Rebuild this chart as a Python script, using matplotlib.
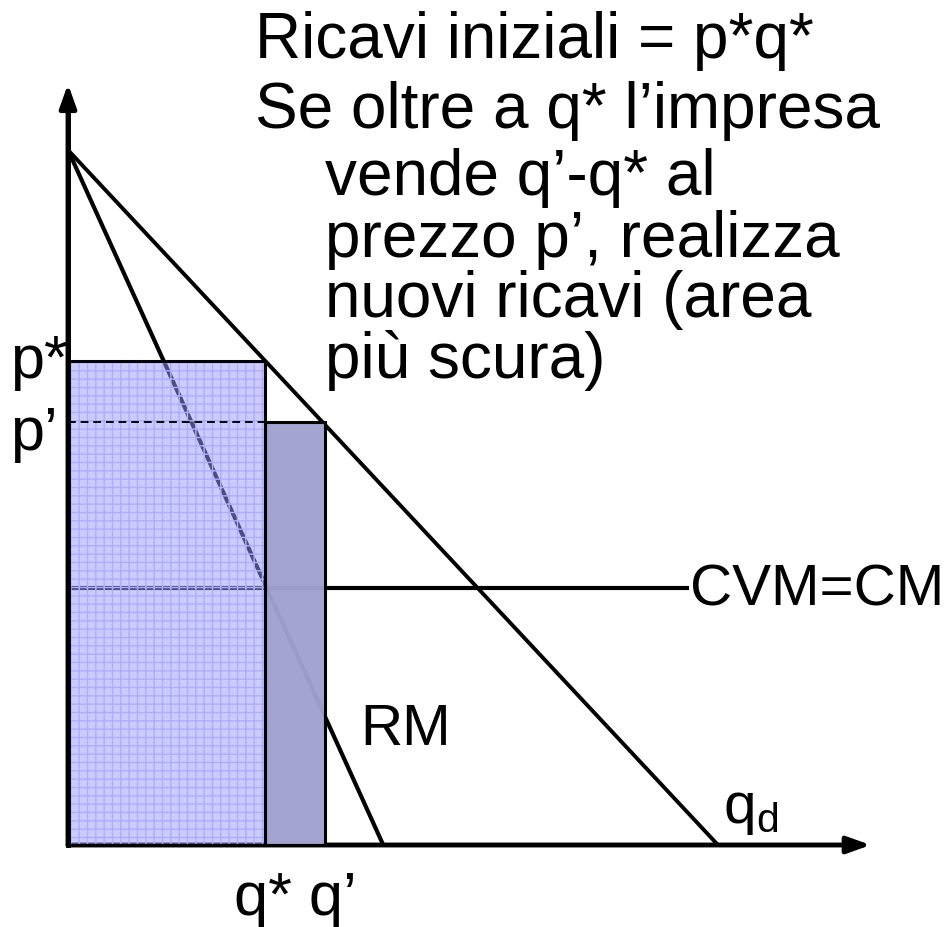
import matplotlib.pyplot as plt
from matplotlib.patches import Rectangle

plt.rcParams['font.family'] = ['Liberation Sans', 'DejaVu Sans']

# grandezze del grafico (unita arbitrarie)
q_max = 10.0      # intercetta domanda su asse q
p_max = 10.0      # intercetta domanda su asse p
q_rm = 4.85       # intercetta ricavo marginale
q_star = 3.03
q_prime = 3.95
p_star = 6.97
p_prime = 6.08
cvm = 3.70

testo = ["Ricavi iniziali = p*q*",
         "Se oltre a q* l\u2019impresa",
         "vende q\u2019-q* al",
         "prezzo p\u2019, realizza",
         "nuovi ricavi (area",
         "pi\u00f9 scura)"]


# pixel -> coordinate dati (origine a 68,845; 65 px per unita q, 69.5 px per unita p)
def dx(px):
    return (px - 68) / 65


def dy(py):
    return (845 - py) / 69.5


fig = plt.figure(figsize=(9.47, 9.27), dpi=100, facecolor='white')
ax = fig.add_axes([0, 0, 1, 1])
ax.set_xlim(dx(0), dx(947))
ax.set_ylim(dy(927), dy(0))
ax.axis('off')

# assi con frecce
ax.annotate('', xy=(12.35, 0), xytext=(0, 0),
            arrowprops=dict(arrowstyle='-|>,head_length=1.4,head_width=0.5', lw=3.5, color='black',
                            shrinkA=0, shrinkB=0))
ax.annotate('', xy=(0, 10.95), xytext=(0, 0),
            arrowprops=dict(arrowstyle='-|>,head_length=1.4,head_width=0.5', lw=3.5, color='black',
                            shrinkA=0, shrinkB=0))

# domanda, ricavo marginale, costo
ax.plot([0, q_max], [p_max, 0], color='black', lw=2.8, solid_capstyle='butt')
ax.plot([0, q_rm], [p_max, 0], color='black', lw=3.0, solid_capstyle='butt')
ax.plot([0, 9.55], [cvm, cvm], color='black', lw=3.0, solid_capstyle='butt')

# rettangoli dei ricavi
ax.add_patch(Rectangle((0, 0), q_star, p_star, facecolor=(0.6, 0.6, 1.0), alpha=0.5,
                       edgecolor='none', zorder=3))
ax.add_patch(Rectangle((0, 0), q_star, p_star, fill=False, edgecolor=(0.68, 0.68, 1.0),
                       hatch='++', lw=0, zorder=3))
ax.add_patch(Rectangle((q_star, 0), q_prime - q_star, p_prime, facecolor=(0.63, 0.63, 0.82),
                       alpha=0.97, edgecolor='none', zorder=3))
ax.add_patch(Rectangle((0, 0), q_star, p_star, fill=False, edgecolor='black', lw=2.2, zorder=4))
ax.add_patch(Rectangle((q_star, 0), q_prime - q_star, p_prime, fill=False, edgecolor='black',
                       lw=2.2, zorder=4))
ax.plot([0, q_star], [p_prime, p_prime], color='black', lw=1.4, ls=(0, (4, 2.5)), zorder=5)
ax.plot([0, 0], [0, 10.5], color='black', lw=3.5, zorder=6)

# etichette
ax.text(dx(10), dy(378), 'p*', fontsize=44, ha='left', va='baseline')
ax.text(dx(10), dy(450), 'p\u2019', fontsize=44, ha='left', va='baseline')
ax.text(dx(690), dy(605), 'CVM=CM', fontsize=42, ha='left', va='baseline')
ax.text(dx(360), dy(745), 'RM', fontsize=42, ha='left', va='baseline')
ax.text(dx(723), dy(823), 'q$_\\mathregular{d}$', fontsize=42, ha='left', va='baseline')
ax.text(dx(234), dy(915), 'q* q\u2019', fontsize=44, ha='left', va='baseline')

baseline = [58, 128, 195, 257, 317, 378]
for i, riga in enumerate(testo):
    x = 255 if i < 2 else 325
    ax.text(dx(x), dy(baseline[i]), riga, fontsize=46, ha='left', va='baseline')

plt.savefig('out.png', dpi=100, facecolor='white')
